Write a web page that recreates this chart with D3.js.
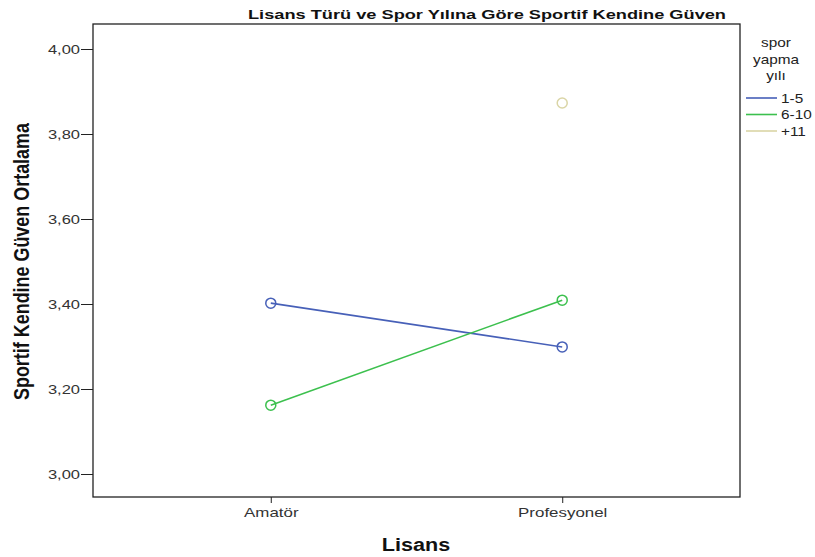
<!DOCTYPE html>
<html><head><meta charset="utf-8">
<script src="https://cdn.jsdelivr.net/npm/d3@7"></script>
<style>body{margin:0;background:#fff}svg{display:block}</style>
</head><body>
<svg id="c" width="815" height="557"></svg>
<script>
const categories = ["Amatör", "Profesyonel"];
const seriesNames = ["1-5", "6-10", "+11"];
const values15 = [3.402, 3.299];
const values610 = [3.162, 3.409];
const values11 = [null, 3.873];
const seriesColors = ["#4760B8", "#3CC04E", "#DAD5A6"];
const yTicks = [3.0, 3.2, 3.4, 3.6, 3.8, 4.0];
const title = "Lisans Türü ve Spor Yılına Göre Sportif Kendine Güven";
const yLabel = "Sportif Kendine Güven Ortalama";
const xLabel = "Lisans";
const legendTitle = ["spor", "yapma", "yılı"];

const series = [values15, values610, values11];
const svg = d3.select("#c");
const FONT = "Liberation Sans, Arial, sans-serif";
const L = 93, R = 740, T = 24, B = 497;
const x = d3.scalePoint().domain(categories).range([L, R]).padding(0.61);
const y = d3.scaleLinear().domain([3.0, 4.0]).range([474, 49]);

function stretch(sel, k) {
  sel.each(function() {
    const w = this.getComputedTextLength();
    d3.select(this).attr("textLength", w * k).attr("lengthAdjust", "spacingAndGlyphs");
  });
}

svg.append("rect").attr("x", L).attr("y", T).attr("width", R - L).attr("height", B - T)
  .attr("fill", "none").attr("stroke", "#222").attr("stroke-width", 1.3);

const yAxis = svg.append("g").attr("transform", `translate(${L},0)`)
  .call(d3.axisLeft(y).tickValues(yTicks).tickSize(12).tickPadding(1)
    .tickFormat(d => d3.format(".2f")(d).replace(".", ",")));
yAxis.select(".domain").remove();
yAxis.selectAll("line").attr("stroke", "#222");
yAxis.selectAll("text").attr("font-family", FONT).attr("font-size", 12.5).attr("fill", "#333").attr("x", -13);
stretch(yAxis.selectAll("text"), 1.32);

const xAxis = svg.append("g").attr("transform", `translate(0,${B})`)
  .call(d3.axisBottom(x).tickSize(6).tickPadding(5));
xAxis.select(".domain").remove();
xAxis.selectAll("line").attr("stroke", "#222");
xAxis.selectAll("text").attr("font-family", FONT).attr("font-size", 13).attr("fill", "#333");
stretch(xAxis.selectAll("text"), 1.3);

const tt = svg.append("text").attr("x", 487).attr("y", 19).attr("text-anchor", "middle")
  .attr("font-family", FONT).attr("font-weight", "bold").attr("font-size", 13).attr("fill", "#111").text(title);
stretch(tt, 1.4);

const yl = svg.append("text").attr("transform", "translate(29,261.5) rotate(-90)").attr("text-anchor", "middle")
  .attr("font-family", FONT).attr("font-weight", "bold").attr("font-size", 22).attr("fill", "#111").text(yLabel);
yl.attr("textLength", 277).attr("lengthAdjust", "spacingAndGlyphs");

const xl = svg.append("text").attr("x", 416).attr("y", 551).attr("text-anchor", "middle")
  .attr("font-family", FONT).attr("font-weight", "bold").attr("font-size", 18).attr("fill", "#111").text(xLabel);
stretch(xl, 1.2);

const line = d3.line().defined(d => d.v != null).x(d => x(d.c)).y(d => y(d.v));
series.forEach((vals, i) => {
  const pts = vals.map((v, j) => ({c: categories[j], v}));
  svg.append("path").datum(pts).attr("d", line).attr("fill", "none")
    .attr("stroke", seriesColors[i]).attr("stroke-width", 1.6);
  svg.selectAll(null).data(pts.filter(d => d.v != null)).enter().append("circle")
    .attr("cx", d => x(d.c)).attr("cy", d => y(d.v)).attr("r", 5)
    .attr("fill", "none").attr("stroke", seriesColors[i]).attr("stroke-width", 1.5);
});

const lg = svg.append("g");
legendTitle.forEach((t, i) => {
  lg.append("text").attr("x", 776).attr("y", 47 + i * 16.5).attr("text-anchor", "middle")
    .attr("font-family", FONT).attr("font-size", 13).attr("fill", "#222").text(t);
});
seriesNames.forEach((s, i) => {
  const yy = 98 + i * 16.5;
  lg.append("line").attr("x1", 746).attr("x2", 777).attr("y1", yy).attr("y2", yy)
    .attr("stroke", seriesColors[i]).attr("stroke-width", 1.6);
  lg.append("text").attr("x", 781).attr("y", yy + 4.5)
    .attr("font-family", FONT).attr("font-size", 13).attr("fill", "#222").text(s);
});
stretch(lg.selectAll("text"), 1.18);
</script>
</body></html>
